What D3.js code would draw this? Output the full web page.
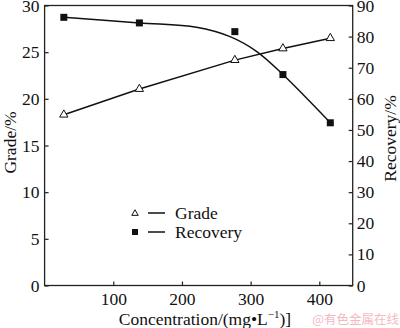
<!DOCTYPE html>
<html><head><meta charset="utf-8">
<script src="https://cdn.jsdelivr.net/npm/d3@7"></script>
<style>body{margin:0;background:#fff}svg{display:block}</style>
</head><body><div id="c"></div>
<script>
const concentration = [28, 138, 277, 347, 416];
const grade = [18.3, 21.05, 24.15, 25.4, 26.5];
const recovery = [86.2, 84.4, 81.6, 67.8, 52.3];
const fitConcentration = [28, 138, 221, 270, 309, 347, 416];
const recoveryFit = [86.2, 84.4, 83.0, 80.0, 75.2, 67.8, 52.3];
const xTicks = [100, 200, 300, 400];
const gradeTicks = [0, 5, 10, 15, 20, 25, 30];
const recoveryTicks = [0, 10, 20, 30, 40, 50, 60, 70, 80, 90];

const W = 400, H = 328;
const L = 44.6, R = 352.7, T = 5.5, B = 285.5;
const SERIF = "'Liberation Serif'";
const svg = d3.select("#c").append("svg").attr("width", W).attr("height", H)
  .style("font-family", SERIF);

const x = d3.scaleLinear().domain([0, 448.6]).range([L, R]);
const yL = d3.scaleLinear().domain([0, 30]).range([B, T]);
const yR = d3.scaleLinear().domain([0, 90]).range([B, T]);

const fs = 17.5;
svg.append("rect").attr("x", L).attr("y", T).attr("width", R - L).attr("height", B - T)
  .attr("fill", "none").attr("stroke", "#222").attr("stroke-width", 1.3);

function styleAxis(g) {
  g.attr("font-family", null).attr("font-size", null);
  g.select(".domain").remove();
  g.selectAll(".tick line").attr("stroke", "#222").attr("stroke-width", 1.2);
  g.selectAll(".tick text").attr("fill", "#111").style("font-family", SERIF).style("font-size", fs + "px");
}
svg.append("g").attr("transform", `translate(0,${B})`)
  .call(d3.axisBottom(x).tickValues(xTicks).tickSize(-4).tickPadding(7).tickFormat(d3.format("d")))
  .call(styleAxis);
svg.append("g").attr("transform", `translate(${L},0)`)
  .call(d3.axisLeft(yL).tickValues(gradeTicks).tickSize(-4).tickPadding(5).tickFormat(d3.format("d")))
  .call(styleAxis);
svg.append("g").attr("transform", `translate(${R},0)`)
  .call(d3.axisRight(yR).tickValues(recoveryTicks).tickSize(-4).tickPadding(4).tickFormat(d3.format("d")))
  .call(styleAxis);

function txt(sel) { return sel.style("font-family", SERIF).style("font-size", fs + "px").attr("fill", "#111"); }
txt(svg.append("text").attr("transform", `translate(15.5,142.5) rotate(-90)`).attr("text-anchor", "middle")).text("Grade/%");
txt(svg.append("text").attr("transform", `translate(396,138.5) rotate(-90)`).attr("text-anchor", "middle")).text("Recovery/%");
const xt = txt(svg.append("text").attr("x", 205).attr("y", 325).attr("text-anchor", "middle"));
xt.append("tspan").text("Concentration/(mg\u2022L");
xt.append("tspan").style("font-size", "11px").attr("dy", -7).text("\u22121");
xt.append("tspan").attr("dy", 7).text(")]");

const gData = concentration.map((c, i) => [c, grade[i]]);
svg.append("path").datum(gData)
  .attr("d", d3.line().x(d => x(d[0])).y(d => yL(d[1])))
  .attr("fill", "none").attr("stroke", "#111").attr("stroke-width", 1.5);
const fData = fitConcentration.map((c, i) => [c, recoveryFit[i]]);
svg.append("path").datum(fData)
  .attr("d", d3.line().curve(d3.curveCatmullRom).x(d => x(d[0])).y(d => yR(d[1])))
  .attr("fill", "none").attr("stroke", "#111").attr("stroke-width", 1.5);

const tri = d3.symbol().type(d3.symbolTriangle).size(30);
svg.selectAll(".g").data(gData).enter().append("path")
  .attr("transform", d => `translate(${x(d[0])},${yL(d[1])})`).attr("d", tri)
  .attr("fill", "#fff").attr("stroke", "#111").attr("stroke-width", 1);
const rData = concentration.map((c, i) => [c, recovery[i]]);
svg.selectAll(".r").data(rData).enter().append("rect")
  .attr("x", d => x(d[0]) - 3.5).attr("y", d => yR(d[1]) - 3.5).attr("width", 7).attr("height", 7)
  .attr("fill", "#111");

const lg = svg.append("g");
lg.append("path").attr("transform", "translate(135,213.5)").attr("d", d3.symbol().type(d3.symbolTriangle).size(18))
  .attr("fill", "#fff").attr("stroke", "#111").attr("stroke-width", 1);
lg.append("line").attr("x1", 148).attr("x2", 165).attr("y1", 213).attr("y2", 213).attr("stroke", "#111").attr("stroke-width", 1.5);
txt(lg.append("text").attr("x", 175).attr("y", 218.5)).text("Grade");
lg.append("rect").attr("x", 132).attr("y", 229).attr("width", 6).attr("height", 6).attr("fill", "#111");
lg.append("line").attr("x1", 148).attr("x2", 165).attr("y1", 232).attr("y2", 232).attr("stroke", "#111").attr("stroke-width", 1.5);
txt(lg.append("text").attr("x", 175).attr("y", 237.5)).text("Recovery");

svg.append("text").attr("x", 399).attr("y", 324).attr("text-anchor", "end")
  .style("font-size", "12.5px").style("font-family", "'Noto Sans CJK SC'")
  .attr("fill", "#f3b9c3").text("@有色金属在线");
</script></body></html>
